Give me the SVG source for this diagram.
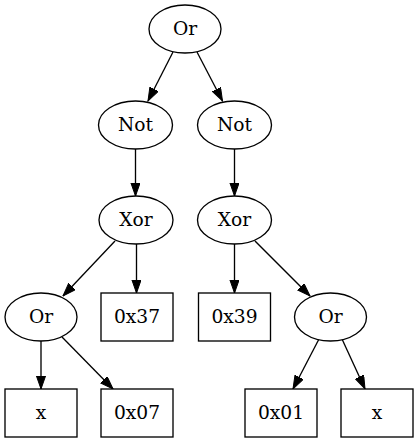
<svg xmlns="http://www.w3.org/2000/svg" width="419" height="443" viewBox="0 0 419 443">
<defs>
<marker id="arr" markerUnits="userSpaceOnUse" markerWidth="14" markerHeight="10" refX="13.3" refY="4.67" orient="auto" viewBox="0 0 14 10">
<path d="M0,0 L13.3,4.67 L0,9.33 z" fill="#000" stroke="#000" stroke-width="1"/>
</marker>
<style>
.n ellipse,.n rect{fill:#fff;stroke:#000;stroke-width:1.33}
.n text{font-family:"DejaVu Serif",serif;font-size:18.67px;text-anchor:middle;fill:#000}
.e line{stroke:#000;stroke-width:1.33;marker-end:url(#arr)}
</style>
</defs>
<rect width="419" height="443" fill="#fff"/>
<g id="edges" class="e">
<line x1="173" y1="52" x2="148" y2="101"/>
<line x1="197" y1="52" x2="222.5" y2="101"/>
<line x1="135.5" y1="149" x2="135.5" y2="196"/>
<line x1="234.5" y1="149" x2="234.5" y2="196"/>
<line x1="115" y1="241" x2="63" y2="296"/>
<line x1="136.5" y1="244" x2="136.5" y2="293"/>
<line x1="234.5" y1="244" x2="234.5" y2="293"/>
<line x1="255" y1="241" x2="310" y2="296"/>
<line x1="41" y1="341" x2="41" y2="389"/>
<line x1="62" y1="337" x2="113" y2="389"/>
<line x1="319" y1="339" x2="293" y2="389"/>
<line x1="342" y1="339" x2="365" y2="389"/>
</g>
<g id="n_or_top" class="n"><ellipse cx="185" cy="29" rx="36" ry="24"/><text x="185" y="35">Or</text></g>
<g id="n_not_l" class="n"><ellipse cx="135.5" cy="125" rx="37" ry="24"/><text x="135.5" y="131">Not</text></g>
<g id="n_not_r" class="n"><ellipse cx="234.5" cy="125" rx="37" ry="24"/><text x="234.5" y="131">Not</text></g>
<g id="n_xor_l" class="n"><ellipse cx="136" cy="220" rx="37" ry="24"/><text x="136" y="226">Xor</text></g>
<g id="n_xor_r" class="n"><ellipse cx="234.5" cy="220" rx="37" ry="24"/><text x="234.5" y="226">Xor</text></g>
<g id="n_or_l" class="n"><ellipse cx="41" cy="317" rx="36" ry="24"/><text x="41" y="323">Or</text></g>
<g id="n_0x37" class="n"><rect x="101" y="293" width="72" height="48"/><text x="137" y="323">0x37</text></g>
<g id="n_0x39" class="n"><rect x="198.5" y="293" width="72" height="48"/><text x="234.5" y="323">0x39</text></g>
<g id="n_or_r" class="n"><ellipse cx="330.5" cy="317" rx="36" ry="24"/><text x="330.5" y="323">Or</text></g>
<g id="n_x_l" class="n"><rect x="5" y="389" width="72" height="48"/><text x="41" y="419">x</text></g>
<g id="n_0x07" class="n"><rect x="101" y="389" width="72" height="48"/><text x="137" y="419">0x07</text></g>
<g id="n_0x01" class="n"><rect x="245" y="389" width="72" height="48"/><text x="281" y="419">0x01</text></g>
<g id="n_x_r" class="n"><rect x="341" y="389" width="72" height="48"/><text x="377" y="419">x</text></g>
</svg>
